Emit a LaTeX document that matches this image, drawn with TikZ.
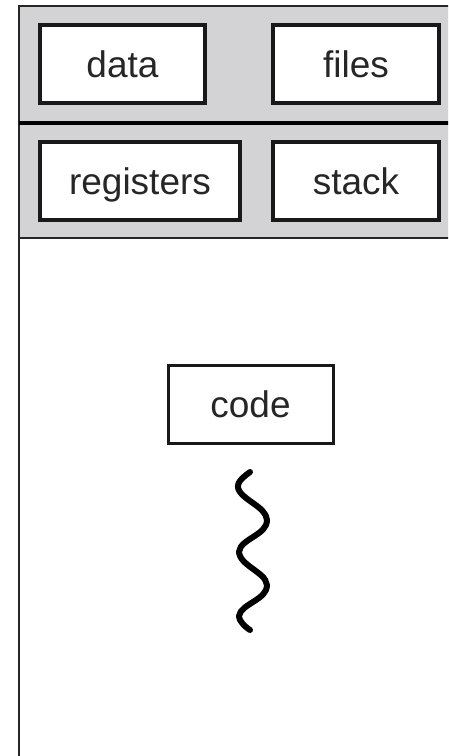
\documentclass[tikz,border=0pt]{standalone}
\usepackage{fontspec}
\setmainfont{Liberation Sans}
\definecolor{panelgray}{RGB}{211,211,214}
\begin{document}
\begin{tikzpicture}[x=1pt,y=-1pt,
  part/.style={draw=black!90, line width=3.5pt, fill=white, inner sep=0pt,
    minimum height=78pt, text height=27pt, text depth=0pt,
    font=\fontsize{37}{42}\selectfont, text=black!85},
  frame/.style={draw=black!85, line width=2.5pt}]
  \useasboundingbox (0,0) rectangle (448,756);
  \fill[white] (0,0) rectangle (448,756);
  \begin{scope}
    \clip (0,0) rectangle (448,756);
    % shared resources band
    \fill[panelgray] (19,6) rectangle (460,238);
    \draw[frame] (19,770) -- (19,6) -- (460,6);
    \draw[black, line width=3.5pt] (19,123) -- (460,123);
    \draw[frame] (19,238) -- (460,238);
  \end{scope}
  % per-process and per-thread parts
  \node[part, minimum width=165pt] (data) at (122.5,64) {data};
  \node[part, minimum width=166pt] (files) at (356,64) {files};
  \node[part, minimum width=200pt] (registers) at (140,181) {registers};
  \node[part, minimum width=166pt] (stack) at (356,181) {stack};
  \node[part, line width=3pt, minimum width=165pt] (code) at (250.5,404) {code};
  % the thread
  \draw[line width=6pt, line cap=round, line join=round]
    (250,472) .. controls (242,478) and (234,484) .. (240,492)
    .. controls (248,503) and (272,510) .. (266,525)
    .. controls (261,537) and (234,542) .. (240,556)
    .. controls (246,569) and (272,575) .. (266,590)
    .. controls (261,602) and (234,607) .. (240,620)
    .. controls (243,625) and (247,628) .. (250,630);
\end{tikzpicture}
\end{document}
